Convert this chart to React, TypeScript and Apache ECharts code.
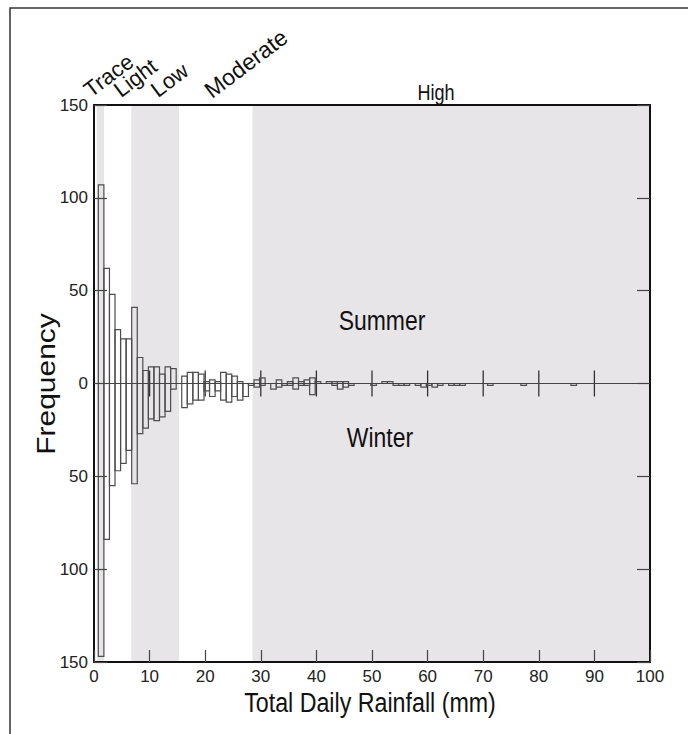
import React, { useEffect, useRef } from 'react';
import * as echarts from 'echarts';

// Rainfall bins (mm) and frequencies
const rainfallBins = [
  1, 2, 3, 4, 5, 6, 7, 8, 9, 10, 11, 12, 13, 14, 16, 17, 18, 19, 20,
  21, 22, 23, 24, 25, 26, 27, 28, 29, 30, 32, 33, 34, 35, 36, 37, 38, 39, 40,
  42, 43, 44, 45, 46, 50, 52, 53, 54, 55, 56, 58, 59, 60, 61, 62, 64, 65, 66,
  71, 77, 86,
];
const summerFreq = [
  107, 62, 48, 29, 24, 24, 41, 14, 7, 9, 9, 5, 9, 8, 4, 6, 6, 5, 1,
  2, 1, 6, 5, 4, 1, 0, 0, 2, 3, 0, 2, 0, 1, 3, 1, 2, 3, 1,
  1, 1, 1, 1, 0, 0, 1, 1, 0, 0, 0, 0, 0, 0, 0, 0, 0, 0, 0,
  0, 0, 0,
];
const winterFreq = [
  -147, -84, -55, -47, -43, -36, -54, -27, -24, -19, -20, -18, -15, -3, -13, -11, -9, -9, -4,
  -7, -4, -9, -10, -7, -9, -7, -1, -2, -1, -3, -2, -1, -1, -3, -1, -1, -6, 0,
  0, -1, -3, -2, -1, -1, 0, 0, -1, -1, -1, -1, -2, -1, -2, -1, -1, -1, -1,
  -1, -1, -1,
];

const xTickValues = [0, 10, 20, 30, 40, 50, 60, 70, 80, 90, 100];

const bandNames = ['Trace', 'Light', 'Low', 'Moderate', 'High'];
const bandStart = [0.5, 1.8, 6.7, 15.3, 28.5];
const bandEnd = [1.8, 6.7, 15.3, 28.5, 100];
const bandShaded = [true, false, true, false, true];

const seasonLabels = ['Summer', 'Winter'];
const xTitle = 'Total Daily Rainfall (mm)';
const yTitle = 'Frequency';

const FONT = '"Liberation Sans", Arial, Helvetica, sans-serif';
const BAND_GRAY = '#e8e5e9';
const BAR_STROKE = '#4d4d4d';

export default function App() {
  const ref = useRef<HTMLDivElement>(null);

  useEffect(() => {
    if (!ref.current) return;
    const chart = echarts.init(ref.current, null, { renderer: 'svg' });

    const barData = rainfallBins.map((b, i) => [b, summerFreq[i], winterFreq[i]]);

    const renderBars = (_params: any, api: any) => {
      const bin = api.value(0);
      const s = api.value(1);
      const w = api.value(2);
      const x0 = bin - 0.22;
      const x1 = bin + 0.78;
      const style = { fill: 'none', stroke: BAR_STROKE, lineWidth: 1.2 };
      const children: any[] = [];
      if (s > 0) {
        const a = api.coord([x0, s]);
        const b = api.coord([x1, 0]);
        children.push({ type: 'rect', shape: { x: a[0], y: a[1], width: b[0] - a[0], height: b[1] - a[1] }, style });
      }
      if (w < 0) {
        const a = api.coord([x0, 0]);
        const b = api.coord([x1, w]);
        children.push({ type: 'rect', shape: { x: a[0], y: a[1], width: b[0] - a[0], height: b[1] - a[1] }, style });
      }
      return { type: 'group', children };
    };

    const renderMidTicks = (_params: any, api: any) => {
      const p = api.coord([api.value(0), 0]);
      return {
        type: 'line',
        shape: { x1: p[0], y1: p[1] - 13, x2: p[0], y2: p[1] + 13 },
        style: { stroke: '#333', lineWidth: 1.3 },
      };
    };

    const bandAreas = bandNames.map((n, i) => [
      { name: n, xAxis: bandStart[i], itemStyle: { color: bandShaded[i] ? BAND_GRAY : 'rgba(0,0,0,0)' } },
      { xAxis: bandEnd[i] },
    ]);

    // Rotated band labels anchored at baseline start
    const rotated = [
      { text: bandNames[0], x: 93, y: 101, size: 22 },
      { text: bandNames[1], x: 123, y: 101, size: 22 },
      { text: bandNames[2], x: 160, y: 101, size: 22 },
      { text: bandNames[3], x: 214, y: 102, size: 23 },
    ];

    const axisBase = {
      z: 10,
      splitLine: { show: false },
    };

    const centeredText = (text: string, x: number, y: number, size: number, sx: number) => ({
      type: 'text',
      x,
      y,
      z: 100,
      scaleX: sx,
      silent: true,
      style: { text, fontSize: size, fontFamily: FONT, fill: '#111', align: 'center', verticalAlign: 'middle' },
    });

    chart.setOption({
      animation: false,
      backgroundColor: '#ffffff',
      textStyle: { fontFamily: FONT },
      grid: { left: 94, right: 38, top: 105, bottom: 72, containLabel: false },
      xAxis: [
        {
          ...axisBase,
          type: 'value',
          position: 'bottom',
          min: 0,
          max: 100,
          interval: 10,
          axisLine: { onZero: false, lineStyle: { color: '#111', width: 2 } },
          axisTick: { inside: true, length: 12, lineStyle: { color: '#444', width: 1.2 } },
          axisLabel: { fontSize: 17, color: '#222', margin: 6, fontFamily: FONT },
        },
        {
          ...axisBase,
          type: 'value',
          position: 'top',
          min: 0,
          max: 100,
          interval: 10,
          axisLine: { onZero: false, lineStyle: { color: '#111', width: 2 } },
          axisTick: { show: false },
          axisLabel: { show: false },
        },
      ],
      yAxis: [
        {
          ...axisBase,
          type: 'value',
          position: 'left',
          min: -150,
          max: 150,
          interval: 50,
          axisLine: { onZero: false, lineStyle: { color: '#111', width: 2 } },
          axisTick: { inside: true, length: 13, lineStyle: { color: '#444', width: 1.2 } },
          axisLabel: {
            fontSize: 17,
            color: '#222',
            margin: 6,
            fontFamily: FONT,
            formatter: (v: number) => String(Math.abs(v)),
          },
        },
        {
          ...axisBase,
          type: 'value',
          position: 'right',
          min: -150,
          max: 150,
          interval: 50,
          axisLine: { onZero: false, lineStyle: { color: '#111', width: 2 } },
          axisTick: { inside: true, length: 13, lineStyle: { color: '#444', width: 1.2 } },
          axisLabel: { show: false },
        },
      ],
      series: [
        {
          type: 'line',
          name: 'bands',
          data: [],
          z: 1,
          silent: true,
          markArea: { silent: true, label: { show: false }, data: bandAreas },
        },
        {
          type: 'custom',
          name: 'zero',
          z: 3,
          silent: true,
          renderItem: renderMidTicks,
          data: xTickValues.filter((v) => v > 0 && v < 100).map((v) => [v]),
          encode: { x: 0 },
          markLine: {
            silent: true,
            symbol: 'none',
            label: { show: false },
            lineStyle: { color: '#444', width: 1, type: 'solid' },
            data: [{ yAxis: 0 }],
          },
        },
        {
          type: 'custom',
          name: 'frequency',
          z: 4,
          silent: true,
          renderItem: renderBars,
          data: barData,
          encode: { x: 0, y: [1, 2] },
        },
      ],
      graphic: [
        {
          type: 'rect',
          z: 0,
          silent: true,
          shape: { x: 10, y: 8, width: 760, height: 800 },
          style: { fill: 'none', stroke: '#333', lineWidth: 1.5 },
        },
        ...rotated.map((r) => ({
          type: 'text',
          x: r.x,
          y: r.y,
          z: 100,
          rotation: (37 * Math.PI) / 180,
          silent: true,
          style: {
            text: r.text,
            fontSize: r.size,
            fontFamily: FONT,
            fill: '#111',
            align: 'left',
            verticalAlign: 'bottom',
          },
        })),
        centeredText(bandNames[4], 436, 92, 22, 0.82),
        centeredText(seasonLabels[0], 382, 320, 27, 0.85),
        centeredText(seasonLabels[1], 380, 437, 27, 0.85),
        centeredText(xTitle, 370, 702, 28, 0.83),
        {
          type: 'text',
          x: 46,
          y: 384,
          z: 100,
          rotation: Math.PI / 2,
          scaleY: 0.83,
          silent: true,
          style: { text: yTitle, fontSize: 30, fontFamily: FONT, fill: '#111', align: 'center', verticalAlign: 'middle' },
        },
      ],
    });

    return () => chart.dispose();
  }, []);

  return (
    <div
      ref={ref}
      style={{ position: 'fixed', left: 0, top: 0, width: 688, height: 734 }}
    />
  );
}
